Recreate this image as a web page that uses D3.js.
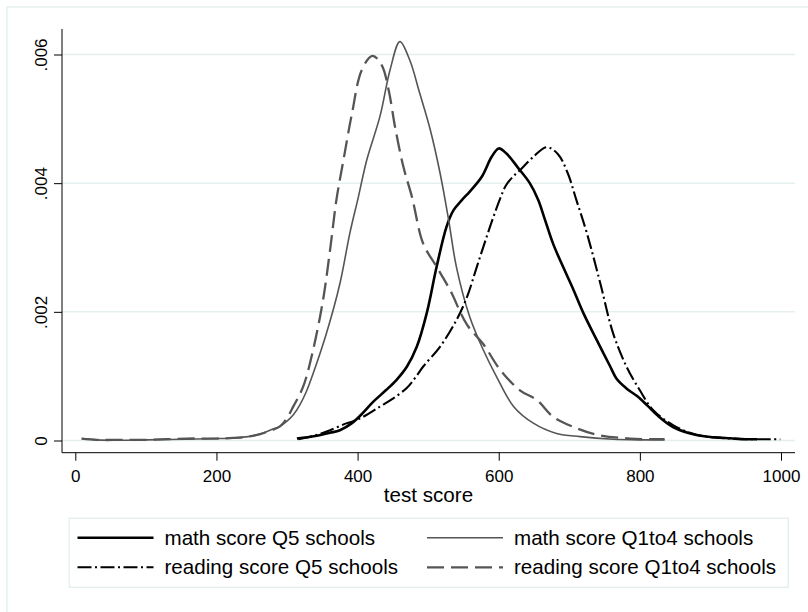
<!DOCTYPE html>
<html><head><meta charset="utf-8">
<script src="https://cdn.jsdelivr.net/npm/d3@7"></script>
<style>body{margin:0;background:#fff}svg{display:block}text{font-family:"Liberation Sans",Arial,Helvetica,sans-serif;fill:#000}</style>
</head><body><svg id="c" width="808" height="612"></svg>
<script>
const xTicks = [0, 200, 400, 600, 800, 1000];
const yTicks = [0, 0.002, 0.004, 0.006];
const yTickLabels = ["0", ".002", ".004", ".006"];
const xTitle = "test score";
const seriesNames = ["math score Q5 schools", "math score Q1to4 schools", "reading score Q5 schools", "reading score Q1to4 schools"];

const mathQ5 = [[314,0.00003],[340,0.00007],[361,0.00012],[375,0.00016],[392,0.00027],[405,0.0004],[422,0.0006],[440,0.00078],[455,0.00094],[470,0.00115],[484,0.00146],[498,0.00198],[512,0.0027],[526,0.00332],[536,0.00358],[548,0.00374],[559,0.00387],[576,0.0041],[590,0.00441],[600,0.00454],[611,0.00446],[628,0.00423],[644,0.004],[656,0.00374],[665,0.00345],[677,0.00306],[692,0.00268],[706,0.00234],[720,0.00198],[739,0.00156],[758,0.00115],[767,0.00096],[781,0.00081],[796,0.00069],[810,0.00055],[824,0.0004],[847,0.00021],[880,0.000085],[905,0.00005],[928,0.000034],[950,0.00002],[966,0.00002]];
const readingQ5 = [[316,0.00002],[340,0.00008],[361,0.00016],[385,0.00027],[394,0.0003],[410,0.00038],[432,0.00053],[450,0.00065],[470,0.00082],[482,0.00098],[493,0.00115],[517,0.00146],[540,0.00187],[555,0.00223],[569,0.0027],[583,0.00317],[592,0.00346],[602,0.00376],[610,0.00396],[620,0.0041],[630,0.0042],[649,0.00441],[668,0.00456],[684,0.00445],[698,0.00415],[710,0.00374],[725,0.00322],[744,0.00244],[762,0.00167],[781,0.00115],[800,0.00078],[819,0.00047],[847,0.00024],[880,0.00009],[928,0.00003],[960,0.00002],[999,0.00002]];
const mathQ1to4 = [[9,0.00003],[30,0.00001],[63,0.000003],[100,0.00001],[158,0.00002],[200,0.00003],[224,0.00004],[245,0.00006],[262,0.0001],[278,0.00017],[290,0.00022],[300,0.0003],[309,0.0004],[318,0.00055],[327,0.00075],[337,0.00104],[356,0.00167],[375,0.00244],[389,0.00322],[401,0.00378],[413,0.00436],[432,0.00505],[446,0.00576],[460,0.0062],[474,0.00591],[488,0.0054],[503,0.00483],[517,0.00415],[529,0.00343],[540,0.0027],[559,0.00192],[578,0.00141],[597,0.00099],[621,0.00053],[649,0.00027],[682,0.00011],[715,0.00006],[762,0.00002],[800,0.00001],[835,0.00001]];
const readingQ1to4 = [[9,0.00003],[30,0.00001],[63,0.00001],[100,0.00001],[158,0.00003],[200,0.00003],[224,0.00004],[245,0.00006],[262,0.0001],[278,0.00016],[290,0.00022],[300,0.00035],[309,0.00053],[323,0.00084],[337,0.00141],[351,0.00218],[361,0.00296],[370,0.00374],[380,0.00436],[392,0.00508],[406,0.00576],[421,0.00598],[434,0.00584],[444,0.00545],[453,0.00488],[465,0.00425],[477,0.00379],[493,0.00306],[512,0.0027],[531,0.00234],[555,0.0018],[578,0.0015],[602,0.0011],[630,0.00078],[654,0.00063],[677,0.00037],[706,0.00021],[739,0.00009],[786,0.00003],[835,0.00002]];

const svg = d3.select("#c");
const x = d3.scaleLinear().domain([0, 1000]).range([75.3, 781]);
const y = d3.scaleLinear().domain([0, 0.006]).range([440.5, 54.5]);
const plotL = 62, plotR = 795, plotT = 29, plotB = 452.7;

// outer graph region border
svg.append("rect").attr("x", 7).attr("y", 7).attr("width", 830).attr("height", 640)
  .attr("fill", "#fff").attr("stroke", "#e6eff0").attr("stroke-width", 1.5);

// gridlines
svg.append("g").selectAll("line").data(yTicks).join("line")
  .attr("x1", plotL).attr("x2", plotR).attr("y1", d => y(d)).attr("y2", d => y(d))
  .attr("stroke", "#e6eff0").attr("stroke-width", 1.5);

// y axis
const yAxis = d3.axisLeft(y).tickValues(yTicks).tickSize(8).tickSizeOuter(0)
  .tickFormat((d, i) => yTickLabels[i]);
const gy = svg.append("g").attr("transform", `translate(${plotL},0)`).call(yAxis);
gy.select(".domain").remove();
gy.selectAll(".tick line").attr("stroke", "#000");
gy.selectAll(".tick text").attr("font-size", 17).attr("fill", "#000")
  .attr("x", null).attr("dy", null).attr("text-anchor", "middle")
  .attr("transform", "translate(-15,0) rotate(-90)").attr("y", 0);
svg.append("line").attr("x1", plotL).attr("x2", plotL).attr("y1", plotT).attr("y2", plotB)
  .attr("stroke", "#000").attr("stroke-width", 1);

// x axis
const xAxis = d3.axisBottom(x).tickValues(xTicks).tickSize(8).tickSizeOuter(0).tickFormat(d3.format("d"));
const gx = svg.append("g").attr("transform", `translate(0,${plotB})`).call(xAxis);
gx.select(".domain").remove();
gx.selectAll(".tick line").attr("stroke", "#000");
gx.selectAll(".tick text").attr("font-size", 17).attr("fill", "#000").attr("dy", null).attr("y", 29.6);
svg.append("line").attr("x1", plotL).attr("x2", plotR).attr("y1", plotB).attr("y2", plotB)
  .attr("stroke", "#000").attr("stroke-width", 1);

svg.append("text").attr("x", (plotL + plotR) / 2).attr("y", 502).attr("text-anchor", "middle")
  .attr("font-size", 20.6).text(xTitle);

// curves
const styles = [
  {data: mathQ5, color: "#000", width: 2.6, dash: null},
  {data: mathQ1to4, color: "#555", width: 1.6, dash: null},
  {data: readingQ5, color: "#000", width: 2.1, dash: "14,3.5,2,3.5"},
  {data: readingQ1to4, color: "#555", width: 2.3, dash: "17,7"}
];
const line = d3.line().x(d => x(d[0])).y(d => y(d[1])).curve(d3.curveCatmullRom.alpha(0.5));
svg.append("g").selectAll("path").data(styles).join("path")
  .attr("d", s => line(s.data)).attr("fill", "none")
  .attr("stroke", s => s.color).attr("stroke-width", s => s.width)
  .attr("stroke-dasharray", s => s.dash).attr("stroke-linejoin", "round");

// legend
svg.append("rect").attr("x", 69.3).attr("y", 518.3).attr("width", 719).attr("height", 69)
  .attr("fill", "#fff").attr("stroke", "#e6eff0").attr("stroke-width", 1.5);
const legPos = [[77.5, 537.7], [427, 537.7], [77.5, 567.3], [427, 567.3]];
const leg = svg.append("g").selectAll("g").data(styles).join("g")
  .attr("transform", (s, i) => `translate(${legPos[i][0]},${legPos[i][1]})`);
leg.append("line").attr("x1", 0).attr("x2", 76).attr("y1", 0).attr("y2", 0)
  .attr("stroke", s => s.color).attr("stroke-width", s => s.width).attr("stroke-dasharray", s => s.dash);
leg.append("text").attr("x", 87).attr("y", 7).attr("font-size", 20.6)
  .text((s, i) => seriesNames[i]);
</script></body></html>
